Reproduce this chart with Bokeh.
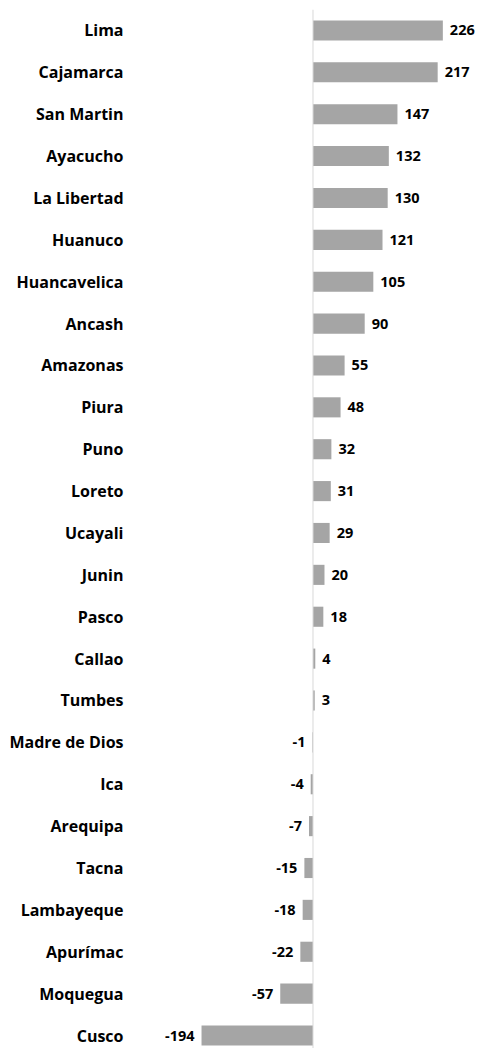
from bokeh.plotting import figure
from bokeh.models import ColumnDataSource, Range1d, FixedTicker, Span
from bokeh.core.properties import value
from bokeh.embed import file_html
from bokeh.resources import INLINE

regions = ["Lima", "Cajamarca", "San Martin", "Ayacucho", "La Libertad", "Huanuco",
           "Huancavelica", "Ancash", "Amazonas", "Piura", "Puno", "Loreto", "Ucayali",
           "Junin", "Pasco", "Callao", "Tumbes", "Madre de Dios", "Ica", "Arequipa",
           "Tacna", "Lambayeque", "Apurímac", "Moquegua", "Cusco"]
values = [226, 217, 147, 132, 130, 121, 105, 90, 55, 48, 32, 31, 29, 20, 18, 4, 3,
          -1, -4, -7, -15, -18, -22, -57, -194]

pos = list(range(len(regions)))
src = ColumnDataSource(dict(y=pos, v=values))
pos_src = ColumnDataSource(dict(y=[p for p, v in zip(pos, values) if v >= 0],
                                v=[v for v in values if v >= 0],
                                lab=[str(v) for v in values if v >= 0]))
neg_src = ColumnDataSource(dict(y=[p for p, v in zip(pos, values) if v < 0],
                                v=[v for v in values if v < 0],
                                lab=[str(v) for v in values if v < 0]))

FONT = "Open Sans"
BAR = "#A5A5A5"

p = figure(width=479, height=1048, output_backend="svg", toolbar_location=None,
           x_range=Range1d(-295, 289.8), y_range=Range1d(24.31, -0.5),
           min_border_left=143, min_border_right=0, min_border_top=9, min_border_bottom=0)
p.outline_line_color = None
p.xgrid.visible = False
p.ygrid.visible = False
p.xaxis.visible = False

p.add_layout(Span(location=0, dimension="height", line_color="#D9D9D9", line_width=1))

p.hbar(y="y", left=0, right="v", height=0.48, source=src, fill_color=BAR, line_color=None)

for s, off, al in ((pos_src, 7, "left"), (neg_src, -7, "right")):
    p.text(x="v", y="y", text="lab", source=s, x_offset=off, text_align=al,
           text_baseline="middle", text_font=value(FONT), text_font_style="bold",
           text_font_size="14.5px", text_color="#000000")

ax = p.yaxis[0]
ax.ticker = FixedTicker(ticks=pos)
ax.major_label_overrides = {i: r for i, r in zip(pos, regions)}
ax.axis_line_color = None
ax.major_tick_line_color = None
ax.minor_tick_line_color = None
ax.major_tick_out = 0
ax.major_tick_in = 0
ax.major_label_standoff = 20
ax.major_label_text_font = FONT
ax.major_label_text_font_style = "bold"
ax.major_label_text_font_size = "16px"
ax.major_label_text_color = "#000000"

open("out.html", "w").write(file_html(p, INLINE))
